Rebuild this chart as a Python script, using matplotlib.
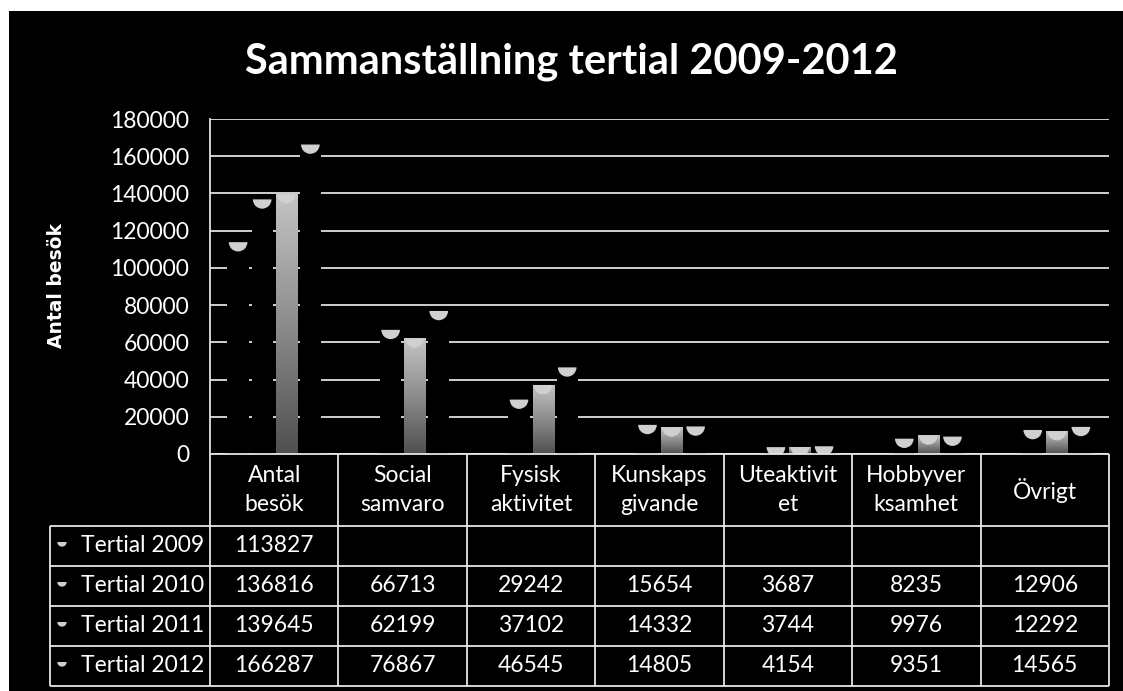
import numpy as np
import matplotlib
matplotlib.use('Agg')
import matplotlib.pyplot as plt
from matplotlib.patches import Rectangle
from matplotlib.path import Path
from matplotlib.colors import LinearSegmentedColormap

plt.rcParams['font.family'] = ['Lato', 'DejaVu Sans']

categories = ["Antal besök", "Social samvaro", "Fysisk aktivitet", "Kunskaps givande",
              "Uteaktivitet", "Hobbyverksamhet", "Övrigt"]
header_labels = ["Antal\nbesök", "Social\nsamvaro", "Fysisk\naktivitet", "Kunskaps\ngivande",
                 "Uteaktivit\net", "Hobbyver\nksamhet", "Övrigt"]
series_names = ["Tertial 2009", "Tertial 2010", "Tertial 2011", "Tertial 2012"]
t2009 = [113827, np.nan, np.nan, np.nan, np.nan, np.nan, np.nan]
t2010 = [136816, 66713, 29242, 15654, 3687, 8235, 12906]
t2011 = [139645, 62199, 37102, 14332, 3744, 9976, 12292]
t2012 = [166287, 76867, 46545, 14805, 4154, 9351, 14565]
series = [t2009, t2010, t2011, t2012]
yticks = [0, 20000, 40000, 60000, 80000, 100000, 120000, 140000, 160000, 180000]

W, H = 1123, 691
fig = plt.figure(figsize=(W / 100, H / 100), dpi=100)
fig.patch.set_facecolor('white')
fig.add_artist(Rectangle((9 / W, 0), 1 - 9 / W, (H - 11) / H, transform=fig.transFigure,
                         facecolor='black', edgecolor='none', zorder=-1))

# chart area
ax = fig.add_axes([210 / W, 1 - 454 / H, 899 / W, 335 / H])
ax.set_facecolor('none')
for s in ['top', 'right', 'bottom']:
    ax.spines[s].set_visible(False)
ax.spines['left'].set_color('#e0e0e0')
ax.spines['left'].set_linewidth(1.3)

x = np.arange(len(categories))
slot = 0.1875
bw = 0.165
half_disk = Path.wedge(180, 360)
cap_col = '#d0d0d0'
gray_cmap = LinearSegmentedColormap.from_list('g', ['#505050', '#8c8c8c', '#c4c4c4'])

for i, vals in enumerate(series):
    xs = x + (i - 1.5) * slot
    vals = np.array(vals, dtype=float)
    if i == 2:
        bars = ax.bar(xs, vals, bw, color='none', edgecolor='none', zorder=3)
        for rect in bars:
            h = rect.get_height()
            if np.isnan(h):
                continue
            x0 = rect.get_x()
            grad = np.linspace(0, 1, 100).reshape(-1, 1)
            im = ax.imshow(grad, extent=(x0, x0 + rect.get_width(), 0, h), origin='lower',
                           aspect='auto', cmap=gray_cmap, zorder=3)
            im.set_clip_path(rect)
    else:
        ax.bar(xs, vals, bw, color='black', edgecolor='none', zorder=2)
    ax.scatter(xs, vals, s=180, marker=half_disk, color=cap_col, edgecolors='none', zorder=4)

ax.set_xlim(-0.5, len(categories) - 0.5)
ax.set_ylim(0, 180000)
ax.set_yticks(yticks)
ax.set_yticklabels([str(v) for v in yticks])
ax.set_xticks([])
ax.tick_params(axis='y', length=0, colors='white', labelsize=16.5, pad=15)
ax.yaxis.grid(True, color='#cfcfcf', linewidth=1.4)
ax.set_axisbelow(True)

fig.text(571 / W, 1 - 62 / H, "Sammanställning tertial 2009-2012", color='white',
         fontsize=30, fontweight='bold', ha='center', va='center')
fig.text(57 / W, 1 - 286 / H, "Antal besök", color='white', fontsize=13.5, fontweight='bold',
         family='DejaVu Sans', rotation=90, ha='center', va='center')

# data table under the chart
tab = fig.add_axes([0, 0, 1, 1])
tab.set_xlim(0, W)
tab.set_ylim(H, 0)
tab.axis('off')
tab.patch.set_alpha(0)

col_edges = np.linspace(210, 1109, len(categories) + 1)
row_edges = [526, 566, 606, 646, 686]
line_col = '#e6e6e6'
tab.hlines(454, col_edges[0], col_edges[-1], color=line_col, lw=1.3)
tab.hlines(row_edges, 50, col_edges[-1], color=line_col, lw=1.3)
tab.vlines(col_edges, 454, row_edges[-1], color=line_col, lw=1.3)
tab.vlines(50, row_edges[0], row_edges[-1], color=line_col, lw=1.3)

centers = (col_edges[:-1] + col_edges[1:]) / 2
for c, lab in zip(centers, header_labels):
    tab.text(c, 490, lab, color='white', fontsize=16.5, ha='center', va='center',
             linespacing=1.45)

for r, (name, vals) in enumerate(zip(series_names, series)):
    yc = (row_edges[r] + row_edges[r + 1]) / 2
    tab.scatter([62], [yc - 4], s=45, marker=half_disk, color=cap_col, edgecolors='none')
    tab.text(204, yc, name, color='white', fontsize=16.5, ha='right', va='center')
    for c, v in zip(centers, vals):
        if not np.isnan(v):
            tab.text(c, yc, f"{int(v)}", color='white', fontsize=16.5, ha='center', va='center')

fig.savefig('out.png', dpi=100, facecolor=fig.get_facecolor())
